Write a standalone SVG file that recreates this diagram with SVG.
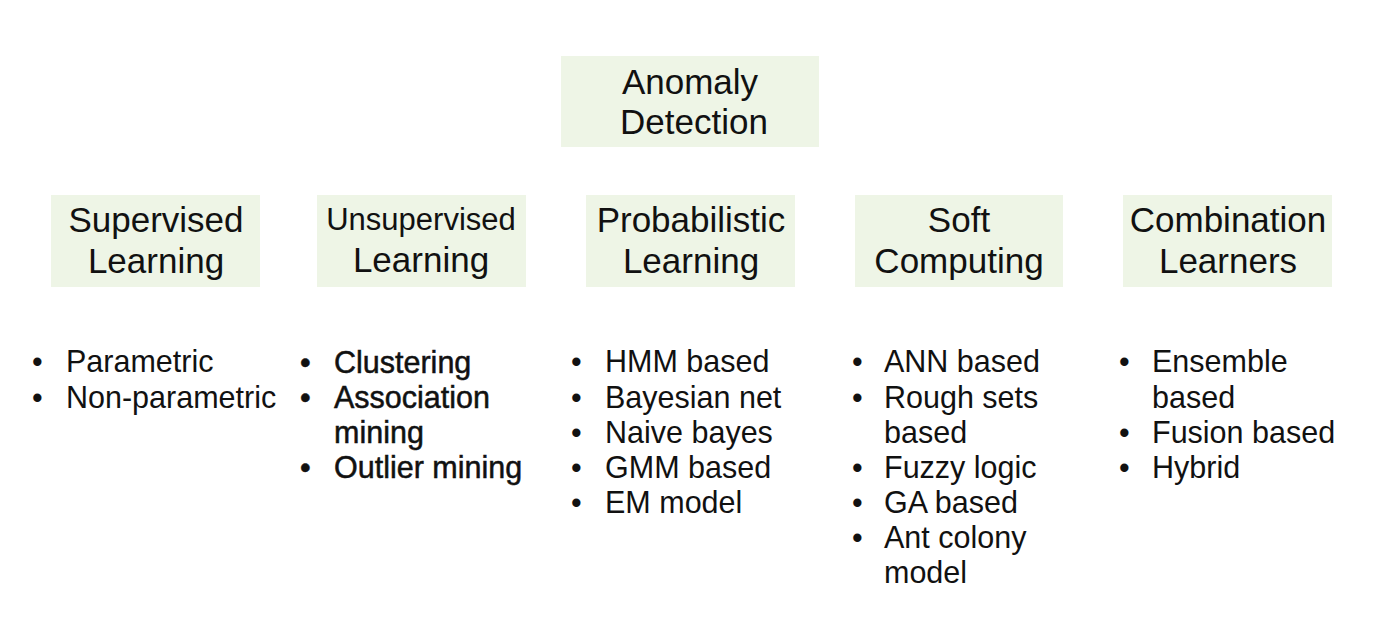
<svg xmlns="http://www.w3.org/2000/svg" width="1398" height="617" viewBox="0 0 1398 617">
  <style>
    .box { fill: #eef5e6; }
    .hd { font-family: "Liberation Sans", Arial, sans-serif; font-size: 35px; fill: #111; text-anchor: middle; }
    .hd-sm { font-size: 31px; }
    .li { font-family: "Liberation Sans", Arial, sans-serif; font-size: 30.5px; fill: #111; }
    .bold { stroke: #111; stroke-width: 0.5px; }
  </style>
  <rect width="1398" height="617" fill="#ffffff"/>

  <g id="anomaly-detection">
    <rect class="box" x="561" y="56" width="258" height="91"/>
    <text class="hd" x="690" y="94">Anomaly</text>
    <text class="hd" x="694" y="134">Detection</text>
  </g>

  <g id="supervised">
    <rect class="box" x="51" y="195" width="209" height="92"/>
    <text class="hd" x="156" y="232">Supervised</text>
    <text class="hd" x="156" y="273">Learning</text>
    <g class="li">
      <text x="32" y="372">•</text><text x="66" y="372">Parametric</text>
      <text x="32" y="408">•</text><text x="66" y="408">Non-parametric</text>
    </g>
  </g>

  <g id="unsupervised">
    <rect class="box" x="317" y="195" width="209" height="92"/>
    <text class="hd hd-sm" x="421" y="230">Unsupervised</text>
    <text class="hd" x="421" y="272">Learning</text>
    <g class="li bold">
      <text x="300" y="373">•</text><text x="334" y="373">Clustering</text>
      <text x="300" y="408">•</text><text x="334" y="408">Association</text>
      <text x="334" y="443">mining</text>
      <text x="300" y="478">•</text><text x="334" y="478">Outlier mining</text>
    </g>
  </g>

  <g id="probabilistic">
    <rect class="box" x="586" y="195" width="209" height="92"/>
    <text class="hd" x="691" y="232">Probabilistic</text>
    <text class="hd" x="691" y="273">Learning</text>
    <g class="li">
      <text x="571" y="372">•</text><text x="605" y="372">HMM based</text>
      <text x="571" y="408">•</text><text x="605" y="408">Bayesian net</text>
      <text x="571" y="443">•</text><text x="605" y="443">Naive bayes</text>
      <text x="571" y="478">•</text><text x="605" y="478">GMM based</text>
      <text x="571" y="513">•</text><text x="605" y="513">EM model</text>
    </g>
  </g>

  <g id="soft-computing">
    <rect class="box" x="855" y="195" width="208" height="92"/>
    <text class="hd" x="959" y="232">Soft</text>
    <text class="hd" x="959" y="273">Computing</text>
    <g class="li">
      <text x="852" y="372">•</text><text x="884" y="372">ANN based</text>
      <text x="852" y="408">•</text><text x="884" y="408">Rough sets</text>
      <text x="884" y="443">based</text>
      <text x="852" y="478">•</text><text x="884" y="478">Fuzzy logic</text>
      <text x="852" y="513">•</text><text x="884" y="513">GA based</text>
      <text x="852" y="548">•</text><text x="884" y="548">Ant colony</text>
      <text x="884" y="583">model</text>
    </g>
  </g>

  <g id="combination">
    <rect class="box" x="1123" y="195" width="209" height="92"/>
    <text class="hd" x="1228" y="232">Combination</text>
    <text class="hd" x="1228" y="273">Learners</text>
    <g class="li">
      <text x="1119" y="372">•</text><text x="1152" y="372">Ensemble</text>
      <text x="1152" y="408">based</text>
      <text x="1119" y="443">•</text><text x="1152" y="443">Fusion based</text>
      <text x="1119" y="478">•</text><text x="1152" y="478">Hybrid</text>
    </g>
  </g>

  <g id="connectors"></g>
</svg>
